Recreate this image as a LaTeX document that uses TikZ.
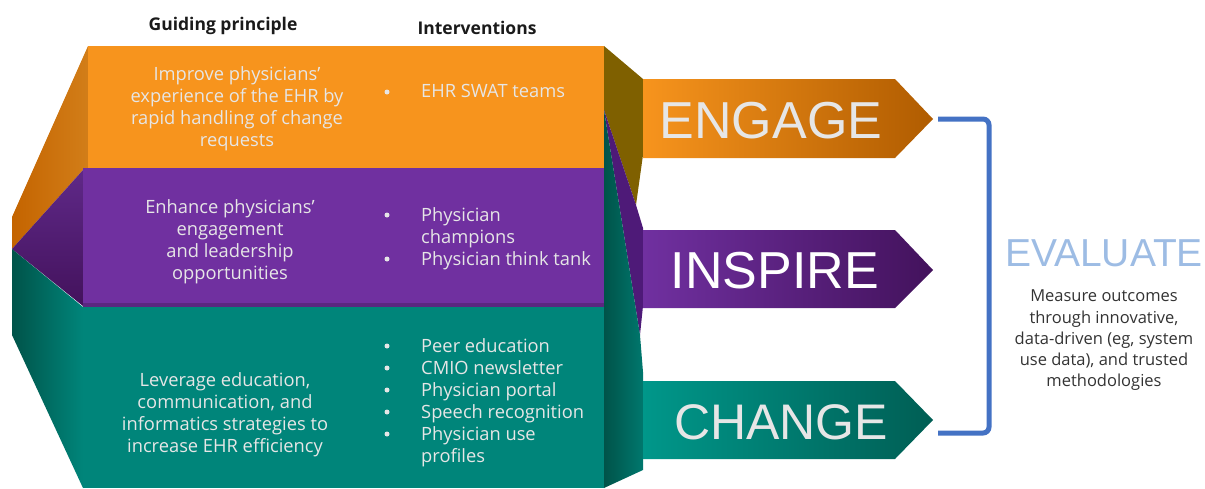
\documentclass[tikz,border=0pt]{standalone}
\usepackage{fontspec}
\setmainfont{Open Sans}
\newfontfamily\bigfont{Liberation Sans}
\usepackage{xcolor}
\usepackage{tikz}
\usetikzlibrary{arrows.meta,positioning,calc}
\definecolor{ink}{HTML}{1A1A1A}
\definecolor{paleink}{HTML}{E6E6E6}
\definecolor{notegray}{HTML}{333333}
\definecolor{orangefront}{HTML}{F7941D}
\definecolor{orangeside}{HTML}{C46400}
\definecolor{olive}{HTML}{7F6000}
\definecolor{orangedark}{HTML}{B05C00}
\definecolor{purplefront}{HTML}{7030A0}
\definecolor{purpleside}{HTML}{4E1A78}
\definecolor{purpledark}{HTML}{43125C}
\definecolor{tealfront}{HTML}{00857A}
\definecolor{tealside}{HTML}{005349}
\definecolor{teallight}{HTML}{00978A}
\definecolor{tealdark}{HTML}{005E54}
\definecolor{bracketblue}{HTML}{4472C4}
\definecolor{evalblue}{HTML}{9DBCE4}
\tikzset{
  principle/.style={align=center, text=paleink, font=\fontsize{18.3}{22}\selectfont, inner sep=0pt},
  action/.style={align=left, text=paleink, font=\fontsize{18.3}{22}\selectfont, inner sep=0pt, anchor=north west},
  dot/.style={circle, fill=paleink, inner sep=0pt, minimum size=5pt},
  header/.style={text=ink, font=\fontsize{17.5}{20}\bfseries\selectfont, inner sep=0pt},
  bigword/.style={font=\bigfont\fontsize{52}{52}\selectfont, inner sep=0pt, text=paleink},
  note/.style={align=center, text=notegray, font=\fontsize{16.5}{21.3}\selectfont, inner sep=0pt, anchor=north},
  bracket/.style={draw=bracketblue, line width=5pt, rounded corners=6pt}
}
\begin{document}
\begin{tikzpicture}[x=1pt, y=-1pt]
  \useasboundingbox (0,0) rectangle (1205,488);
  % side faces, left
  \shade[left color=orangeside, right color=orangefront!85!black] (88,46) -- (12,217) -- (12,249) -- (83,170) -- (88,168) -- cycle;
  \shade[top color=purplefront!85!black, bottom color=purpledark] (83,170) -- (12,249) -- (83,306) -- cycle;
  \shade[left color=tealside, right color=tealfront] (12,249) -- (83,307) -- (83,488) -- (12,335) -- cycle;
  % side faces, right
  \fill[olive] (604,46) -- (643,79) -- (643,155) -- (636,205) -- (604,110) -- cycle;
  \fill[purpleside] (604,110) -- (636,205) -- (643,228) -- (643,306) -- (640,335) -- cycle;
  \shade[left color=tealside, right color=tealfront!90!black] (604,110) -- (640,335) -- (643,372) -- (643,470) -- (604,488) -- cycle;
  % front faces
  \fill[orangefront] (88,46) rectangle (604,168);
  \fill[purplefront] (83,168) rectangle (604,307);
  \fill[purplefront!80!black] (83,303) rectangle (604,307);
  \fill[tealfront] (83,307) rectangle (604,488);
  % pointers
  \shade[left color=orangefront, right color=orangedark] (643,79) -- (895,79) -- (933,119) -- (895,158) -- (643,158) -- cycle;
  \shade[left color=purplefront, right color=purpledark] (643,230) -- (895,230) -- (933,270) -- (895,308) -- (643,308) -- cycle;
  \shade[left color=teallight, right color=tealdark] (643,381) -- (895,381) -- (933,420) -- (895,459) -- (643,459) -- cycle;
  \node[bigword] (engage) at (771,121) {ENGAGE};
  \node[bigword, text=white] (inspire) at (775,271) {INSPIRE};
  \node[bigword, font=\bigfont\fontsize{50}{50}\selectfont] (change) at (781,422) {CHANGE};
  % headers
  \node[header] (hprinciple) at (223,26) {Guiding principle};
  \node[header] (hinterventions) at (477,28) {Interventions};
  % guiding principles
  \node[principle] (pengage) at (237,109) {Improve physicians'\\experience of the EHR by\\rapid handling of change\\requests};
  \node[principle] (pinspire) at (230,242) {Enhance physicians'\\engagement\\and leadership\\opportunities};
  \node[principle] (pchange) at (225,415) {Leverage education,\\communication, and\\informatics strategies to\\increase EHR efficiency};
  % interventions
  \node[action] (aengage) at (421,84) {EHR SWAT teams};
  \node[action] (ainspire) at (421,207) {Physician\\champions\\Physician think tank};
  \node[action] (achange) at (421,338) {Peer education\\CMIO newsletter\\Physician portal\\Speech recognition\\Physician use\\profiles};
  \foreach \y in {92} \node[dot] at (387,\y) {};
  \foreach \y in {215,259} \node[dot] at (387,\y) {};
  \foreach \y in {346,368,390,412,434} \node[dot] at (387,\y) {};
  % evaluate
  \coordinate (btop) at (938,119);
  \coordinate (bbot) at (938,433);
  \draw[bracket] (btop) -- (989,119) -- (989,433) -- (bbot);
  \node[font=\bigfont\fontsize{39}{39}\selectfont, inner sep=0pt, text=evalblue] (evaluate) at (1104,253) {EVALUATE};
  \node[note, below=23pt of evaluate] (outcome) {Measure outcomes\\through innovative,\\data-driven (eg, system\\use data), and trusted\\methodologies};
\end{tikzpicture}
\end{document}
